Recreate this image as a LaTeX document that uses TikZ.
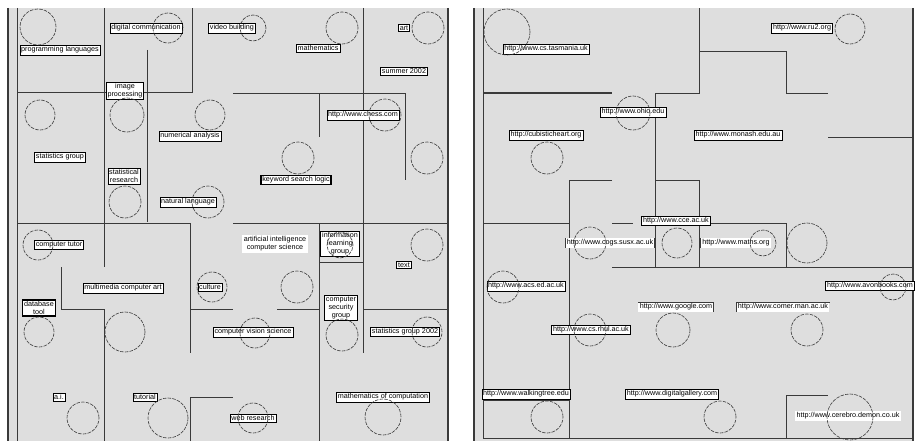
\documentclass[tikz,border=0pt]{standalone}
\usepackage{fontspec}
\setmainfont{Liberation Sans}
\usepackage{xcolor}
\definecolor{mapbg}{HTML}{DEDEDE}
\definecolor{mapline}{HTML}{3A3A3A}
\usepackage{tikz}
\usetikzlibrary{positioning}
\newcommand{\mapfont}{\fontsize{7.2}{8}\selectfont}
\tikzset{
  mapbox/.style={draw=black,fill=white,inner sep=1.4pt,align=center,font=\mapfont,line width=0.5pt},
  mapboxthick/.style={mapbox,line width=1.1pt},
  mapplain/.style={fill=white,inner sep=1.4pt,align=center,font=\mapfont},
  mapring/.style={circle,draw=mapline,dash pattern=on 3.5pt off 1.2pt,line width=0.6pt,minimum size=#1,inner sep=0pt},
  mapwall/.style={draw=mapline,line width=0.8pt},
  mapwallthick/.style={draw=mapline,line width=1.5pt},
}

\begin{document}
\begin{tikzpicture}[x=1pt,y=-1pt]
\useasboundingbox (0,0) rectangle (917,444);
% the two panels
\fill[mapbg] (8,8) rectangle (448,441);
\fill[mapbg] (474,8) rectangle (913,441);
\draw[mapwallthick] (8,8)--(8,441);\draw[mapwall] (17,8)--(17,441);\draw[mapwallthick] (448,8)--(448,441);
\draw[mapwallthick] (474,8)--(474,441);\draw[mapwall] (483,8)--(483,438)--(913,438);\draw[mapwallthick] (913,8)--(913,441);
% left walls
\draw[mapwall] (104,8)--(104,267);\draw[mapwall] (104,309)--(104,441);
\draw[mapwall] (17,92)--(192,92)--(192,8);
\draw[mapwall] (147,50)--(147,222);
\draw[mapwall] (363,8)--(363,353);
\draw[mapwall] (233,93)--(405,93)--(405,180);\draw[mapwall] (319,93)--(319,137);
\draw[mapwall] (17,223)--(190,223)--(190,353);\draw[mapwall] (233,223)--(448,223);
\draw[mapwall] (61,267)--(61,309)--(104,309);
\draw[mapwall] (190,309)--(233,309);\draw[mapwall] (277,309)--(319,309);\draw[mapwall] (363,309)--(448,309);
\draw[mapwall] (319,223)--(319,441);\draw[mapwall] (319,262)--(363,262);
\draw[mapwall] (190,441)--(190,397)--(233,397);
% right walls
\draw[mapwallthick] (483,93)--(612,93);
\draw[mapwall] (655,267)--(655,93)--(699,93)--(699,8);
\draw[mapwall] (699,51)--(786,51)--(786,93)--(828,93);
\draw[mapwall] (828,137)--(913,137);
\draw[mapwall] (612,180)--(569,180)--(569,438);
\draw[mapwall] (655,180)--(699,180)--(699,267);
\draw[mapwall] (483,223)--(569,223);\draw[mapwall] (612,223)--(633,223);
\draw[mapwall] (699,223)--(786,223)--(786,267);
\draw[mapwall] (612,267)--(913,267);
\draw[mapwall] (483,400)--(569,400);
\draw[mapwall] (786,438)--(786,395)--(828,395);
% left labels
\node[mapbox] (pl) at (60,50) {programming languages};
\node[mapbox] (dc) at (146,28) {digital communication};
\node[mapbox] (vb) at (232,28) {video building};
\node[mapbox] (ma) at (318,48) {mathematics};
\node[mapboxthick] (art) at (404,28) {art};
\node[mapbox] (su) at (404,71) {summer 2002};
\node[mapboxthick] (im) at (125,91) {image\\processing};
\node[mapbox] (na) at (190,136) {numerical analysis};
\node[mapbox] (ch) at (363,115) {http://www.chess.com};
\node[mapbox] (sg) at (60,157) {statistics group};
\node[mapbox] (sr) at (124,176) {statistical\\research};
\node[mapbox] (nl) at (188,202) {natural language};
\node[mapboxthick] (kw) at (296,180) {keyword search logic};
\node[mapboxthick] (ct) at (59,245) {computer tutor};
\node[mapplain] (ai) at (275,244) {artificial intelligence\\computer science};
\node[mapboxthick] (ml) at (340,244) {information\\learning\\group};
\node[mapboxthick] (tx) at (404,265) {text};
\node[mapboxthick] (tl) at (39,308) {database\\tool};
\node[mapbox] (mm) at (123,288) {multimedia computer art};
\node[mapbox] (cu) at (210,287) {culture};
\node[mapbox] (cs) at (341,308) {computer\\security\\group};
\node[mapbox] (cv) at (253,332) {computer vision science};
\node[mapboxthick] (sg2) at (405,332) {statistics group 2002};
\node[mapbox] (aiz) at (59,397) {a.i.};
\node[mapbox] (tu) at (145,397) {tutorial};
\node[mapbox] (rg) at (253,418) {web research};
\node[mapbox] (mc) at (383,397) {mathematics of computation};
% right labels
\node[mapbox] (r1) at (546,49) {http://www.cs.tasmania.uk};
\node[mapbox] (r2) at (633,112) {http://www.ohio.edu};
\node[mapbox] (r3) at (546,135) {http://cubisticheart.org};
\node[mapbox] (r4) at (802,28) {http://www.ru2.org};
\node[mapbox] (r5) at (738,135) {http://www.monash.edu.au};
\node[mapboxthick] (r6) at (676,221) {http://www.cce.ac.uk};
\node[mapplain] (r7) at (610,243) {http://www.cogs.susx.ac.uk};
\draw[mapwall] (r7.north west)--(r7.south west);\draw[mapwall] (r7.north east)--(r7.south east);
\node[mapplain] (r8) at (736,243) {http://www.maths.org};
\draw[mapwall] (r8.north west)--(r8.south west);
\node[mapbox] (r9) at (526,286) {http://www.acs.ed.ac.uk};
\node[mapboxthick] (r10) at (870,286) {http://www.avonbooks.com};
\node[mapplain] (r11) at (676,307) {http://www.google.com};
\draw[mapwall] (r11.north west)--(r11.north east)--(r11.south east);
\node[mapplain] (r12) at (783,307) {http://www.comer.man.ac.uk};
\draw[mapwall] (r12.south west)--(r12.north west)--(r12.north east);
\node[mapboxthick] (r13) at (591,330) {http://www.cs.rhul.ac.uk};
\node[mapbox] (r14) at (526,394) {http://www.walkingtree.edu};
\node[mapbox] (r15) at (672,394) {http://www.digitalgallery.com};
\node[mapplain] (r16) at (848,416) {http://www.cerebro.demon.co.uk};
% left rings
\node[mapring=36pt] (la) at (38,27) {};
\node[mapring=30pt] (lb) at (168,28) {};
\node[mapring=26pt] (lc) at (253,28) {};
\node[mapring=32pt] (ld) at (342,28) {};
\node[mapring=32pt] (le) at (428,28) {};
\node[mapring=30pt] (lf) at (40,115) {};
\node[mapring=34pt] (lg) at (127,115) {};
\node[mapring=30pt] (lh) at (210,115) {};
\node[mapring=32pt] (li) at (385,115) {};
\node[mapring=32pt] (lj) at (298,158) {};
\node[mapring=32pt] (lk) at (427,158) {};
\node[mapring=32pt] (ll) at (125,202) {};
\node[mapring=32pt] (lm) at (208,202) {};
\node[mapring=30pt] (ln) at (38,245) {};
\node[mapring=26pt] (lo) at (340,245) {};
\node[mapring=32pt] (lp) at (427,245) {};
\node[mapring=32pt] (lq) at (297,287) {};
\node[mapring=30pt] (lr) at (212,287) {};
\node[mapring=32pt] (ls) at (342,335) {};
\node[mapring=30pt] (lt) at (39,332) {};
\node[mapring=40pt] (lu) at (125,332) {};
\node[mapring=30pt] (lv) at (255,333) {};
\node[mapring=30pt] (lw) at (427,332) {};
\node[mapring=32pt] (lx) at (83,418) {};
\node[mapring=40pt] (ly) at (168,418) {};
\node[mapring=30pt] (lz) at (253,418) {};
\node[mapring=36pt] (lzz) at (383,417) {};
% right rings
\node[mapring=46pt] (ra) at (507,32) {};
\node[mapring=30pt] (rb) at (850,29) {};
\node[mapring=34pt] (rc) at (633,113) {};
\node[mapring=32pt] (rd) at (547,158) {};
\node[mapring=32pt] (re) at (590,243) {};
\node[mapring=30pt] (rf) at (677,243) {};
\node[mapring=26pt] (rg2) at (763,243) {};
\node[mapring=40pt] (rh) at (807,243) {};
\node[mapring=32pt] (ri) at (503,287) {};
\node[mapring=26pt] (rj) at (893,287) {};
\node[mapring=32pt] (rk) at (590,330) {};
\node[mapring=34pt] (rl) at (673,330) {};
\node[mapring=32pt] (rm) at (807,330) {};
\node[mapring=32pt] (rn) at (547,417) {};
\node[mapring=32pt] (ro) at (720,417) {};
\node[mapring=46pt] (rp) at (850,417) {};
\end{tikzpicture}
\end{document}
